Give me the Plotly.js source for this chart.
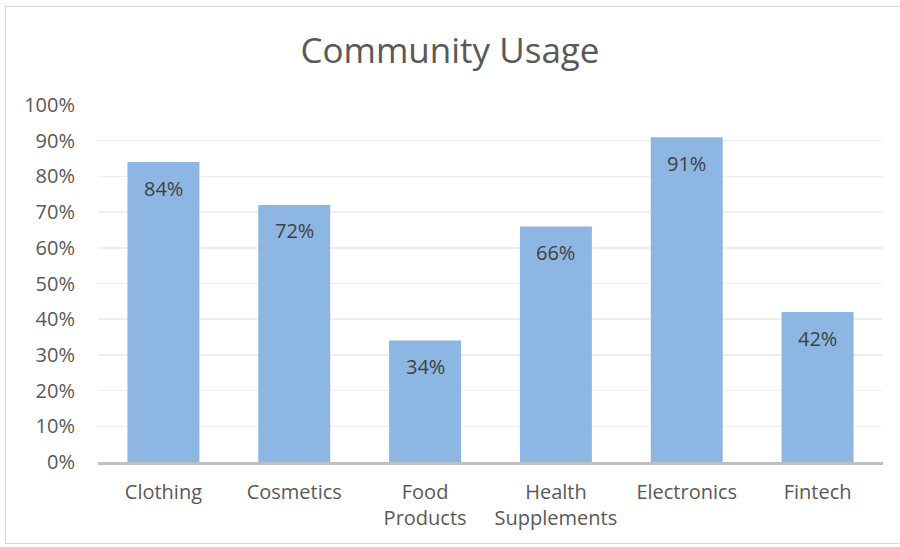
<!DOCTYPE html>
<html>
<head>
<meta charset="utf-8">
<script src="https://cdn.plot.ly/plotly-3.0.1.min.js"></script>
<style>
html,body{margin:0;padding:0;background:#fff;}
#wrap{position:relative;width:900px;height:547px;}
#chart{width:900px;height:547px;}
#frame{position:absolute;left:5px;top:6px;width:900px;height:536px;border:1px solid #D9D9D9;pointer-events:none;}
</style>
</head>
<body>
<div id="wrap"><div id="chart"></div><div id="frame"></div></div>
<script>
const categories = ["Clothing", "Cosmetics", "Food<br>Products", "Health<br>Supplements", "Electronics", "Fintech"];
const usagePct = [84, 72, 34, 66, 91, 42];
const yTickVals = [0,10,20,30,40,50,60,70,80,90,100];
const yTickText = ["0%","10%","20%","30%","40%","50%","60%","70%","80%","90%","100%"];

const font = "Open Sans, Noto Sans, sans-serif";

const trace = {
  type: "bar",
  x: categories,
  y: usagePct,
  marker: {color: "#8DB7E2", line: {width: 0}},
  hoverinfo: "none"
};

const annotations = categories.map((c, i) => ({
  x: c, y: usagePct[i], xref: "x", yref: "y",
  text: usagePct[i] + "%", showarrow: false,
  yanchor: "middle", yshift: -26,
  font: {family: font, size: 20, color: "#404040"}
}));

const layout = {
  width: 900, height: 547,
  margin: {l: 98, r: 17, t: 105, b: 85},
  paper_bgcolor: "rgba(0,0,0,0)",
  plot_bgcolor: "#fff",
  title: {text: "Community Usage", x: 0.5, xanchor: "center", y: 0.907, yanchor: "middle",
          font: {family: font, size: 35, color: "#595959"}},
  bargap: 0.45,
  showlegend: false,
  xaxis: {
    type: "category",
    showgrid: false,
    showline: true, linecolor: "#BFBFBF", linewidth: 2.5,
    ticks: "", ticklabelstandoff: 10,
    tickfont: {family: font, size: 20, color: "#595959"}
  },
  yaxis: {
    range: [0, 100],
    tickvals: yTickVals, ticktext: yTickText,
    showgrid: true, gridcolor: "#EEEEEE", gridwidth: 1.5,
    zeroline: false, showline: false,
    ticks: "", ticklabelstandoff: 22,
    tickfont: {family: font, size: 20, color: "#595959"}
  },
  annotations: annotations
};

Plotly.newPlot("chart", [trace], layout, {displayModeBar: false, staticPlot: true});
</script>
</body>
</html>
